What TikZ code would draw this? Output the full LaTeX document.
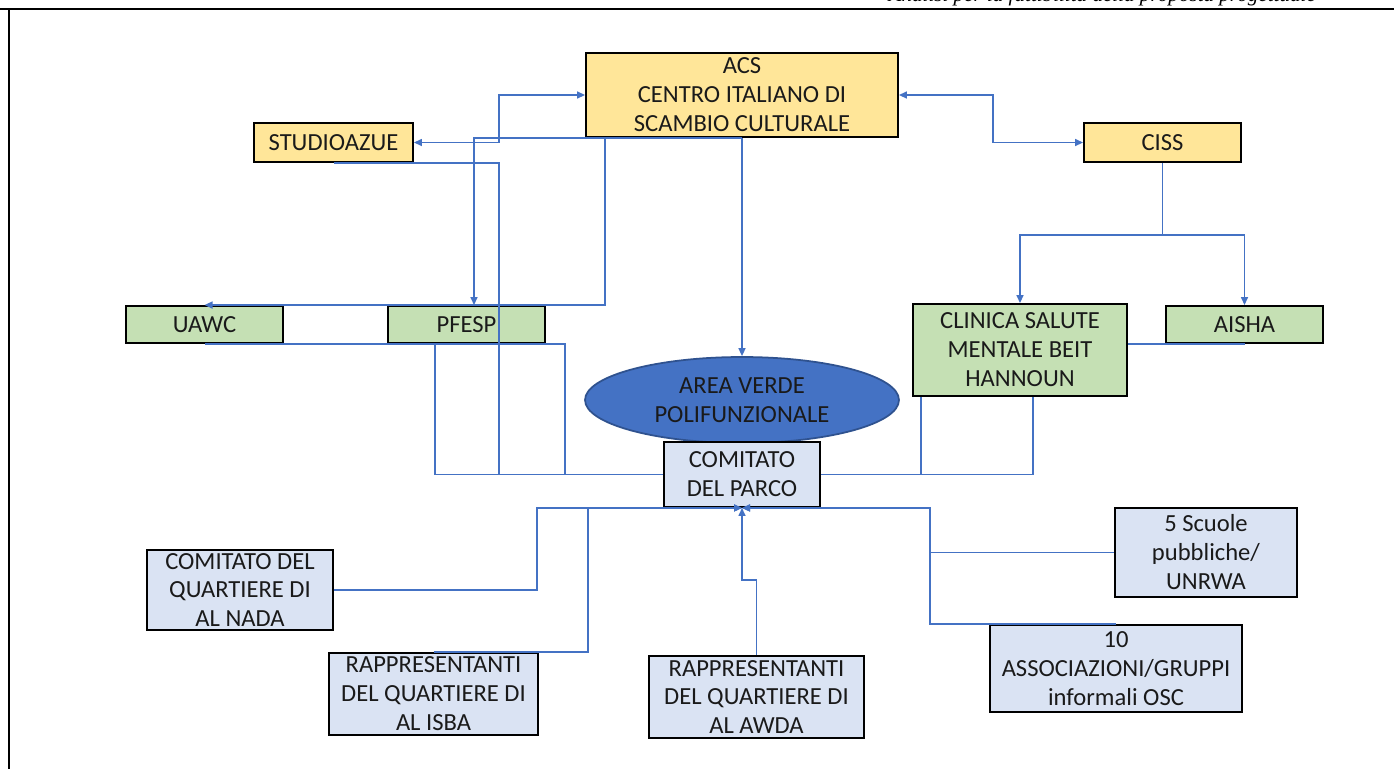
\documentclass[tikz,border=0pt]{standalone}
\usepackage{fontspec}
\setmainfont{Carlito}
\newfontfamily\headfont{Liberation Serif}
\usetikzlibrary{arrows.meta,shapes.geometric}
\definecolor{ybox}{HTML}{FFE699}
\definecolor{gbox}{HTML}{C5E0B4}
\definecolor{bbox}{HTML}{DAE3F3}
\definecolor{linkblue}{HTML}{4472C4}
\definecolor{ovalline}{HTML}{2F528F}
\definecolor{ink}{HTML}{1A1A1A}

\begin{document}
\begin{tikzpicture}[x=0.02cm,y=-0.02cm,
    box/.style={draw=black,line width=1.1pt,inner sep=0pt,align=center,text=ink,
      font=\fontsize{14}{16.5}\selectfont},
    yellowbox/.style={box,fill=ybox},
    greenbox/.style={box,fill=gbox},
    bluebox/.style={box,fill=bbox},
    oval/.style={ellipse,draw=ovalline,line width=1pt,fill=linkblue,inner sep=0pt,
      align=center,text=ink,font=\fontsize{14}{16.5}\selectfont},
    link/.style={draw=linkblue,line width=0.85pt},
    tip/.tip={Triangle[length=1.6mm,width=1.4mm]}]
    \useasboundingbox (0,0) rectangle (1394,769);
    % frame of the page and the clipped running head
    \begin{scope}
      \clip (0,0) rectangle (1394,8);
      \node[anchor=base east,font=\headfont\itshape\fontsize{12}{14}\selectfont] (head) at (1322,1)
        {Analisi per la fattibilit\`a della proposta progettuale};
    \end{scope}
    \draw[line width=1.3pt] (0,9) -- (1394,9);
    \draw[line width=1.3pt] (9,9) -- (9,769);

    % columns and rows used by the connectors
    \coordinate (cA) at (499,0);
    \coordinate (cB) at (474,0);
    \coordinate (cC) at (605,0);
    \coordinate (cD) at (993,0);
    \coordinate (cE) at (435,0);
    \coordinate (cF) at (565,0);
    \coordinate (cG) at (921,0);
    \coordinate (cH) at (1033,0);
    \coordinate (cI) at (537,0);
    \coordinate (cJ) at (588,0);
    \coordinate (cK) at (930,0);
    \coordinate (rC) at (0,235);
    \coordinate (rW) at (0,580);

    % partners
    \node[yellowbox,minimum width=6.24cm,minimum height=1.68cm] (acs) at (742,95)
      {ACS\\CENTRO ITALIANO DI\\SCAMBIO CULTURALE};
    \node[yellowbox,minimum width=3.18cm,minimum height=0.78cm] (studio) at (333.5,142.5) {STUDIOAZUE};
    \node[yellowbox,minimum width=3.14cm,minimum height=0.78cm] (ciss) at (1162.5,142.5) {CISS};

    \node[greenbox,minimum width=3.14cm,minimum height=0.74cm] (uawc) at (204.5,324.5) {UAWC};
    \node[greenbox,minimum width=3.14cm,minimum height=0.74cm] (pfesp) at (466.5,324.5) {PFESP};
    \node[greenbox,minimum width=4.28cm,minimum height=1.84cm] (clinica) at (1020,350)
      {CLINICA SALUTE\\MENTALE BEIT\\HANNOUN};
    \node[greenbox,minimum width=3.14cm,minimum height=0.74cm] (aisha) at (1244.5,324.5) {AISHA};

    \node[oval,minimum width=6.28cm,minimum height=1.72cm] (area) at (742,400)
      {AREA VERDE\\POLIFUNZIONALE};
    \node[bluebox,minimum width=3.12cm,minimum height=1.3cm] (parco) at (742,474.5)
      {COMITATO\\DEL PARCO};

    % local actors
    \node[bluebox,minimum width=3.72cm,minimum height=1.6cm] (nada) at (240,590)
      {COMITATO DEL\\QUARTIERE DI\\AL NADA};
    \node[bluebox,minimum width=4.18cm,minimum height=1.64cm] (isba) at (433.5,694)
      {RAPPRESENTANTI\\DEL QUARTIERE DI\\AL ISBA};
    \node[bluebox,minimum width=4.3cm,minimum height=1.64cm] (awda) at (756.5,697)
      {RAPPRESENTANTI\\DEL QUARTIERE DI\\AL AWDA};
    \node[bluebox,minimum width=3.64cm,minimum height=1.78cm] (scuole) at (1206,552.5)
      {5 Scuole\\pubbliche/\\UNRWA};
    \node[bluebox,minimum width=5.04cm,minimum height=1.74cm] (assoc) at (1116,668.5)
      {10\\ASSOCIAZIONI/GRUPPI\\informali OSC};

    % upper connectors
    \draw[link,tip-tip] (studio.east) -- (studio.east -| cA) |- (acs.west);
    \draw[link,tip-tip] (acs.east) -- (acs.east -| cD) |- (ciss.west);
    \draw[link,-tip] (acs.south) -- (acs.south -| cB) -- (pfesp.north -| cB);
    \draw[link,-tip] (acs.south -| cC) -- (pfesp.north -| cC) -- (uawc.north);
    \draw[link,-tip] (acs.south) -- (area.north);
    \draw[link,-tip] (ciss.south) -- (ciss.south |- rC) -| (clinica.north);
    \draw[link,-tip] (ciss.south |- rC) -| (aisha.north);
    \draw[link] (aisha.south) -- (aisha.south -| clinica.east);

    % links to the park committee
    \draw[link] (parco.west) -- (parco.west -| cE) -- (pfesp.south -| cE);
    \draw[link] (parco.west -| cF) -- (pfesp.south -| cF) -- (uawc.south);
    \draw[link] (studio.south) -- (studio.south -| cA) -- (parco.west -| cA);
    \draw[link] (parco.east) -- (parco.east -| cH) -- (clinica.south -| cH);
    \draw[link] (parco.east -| cG) -- (clinica.south -| cG);

    \draw[link,-tip] (nada.east) -| (cI |- parco.south) -- (parco.south);
    \draw[link,-tip] (isba.north) -- (isba.north -| cJ) -- (cJ |- parco.south) -- (parco.south);
    \draw[link,-tip] (awda.north) -- (awda.north |- rW) -- (rW -| parco.south) -- (parco.south);
    \draw[link,-tip] (scuole.west) -| (cK |- parco.south) -- (parco.south);
    \draw[link,-tip] (assoc.north) -| (cK |- parco.south) -- (parco.south);
\end{tikzpicture}
\end{document}
